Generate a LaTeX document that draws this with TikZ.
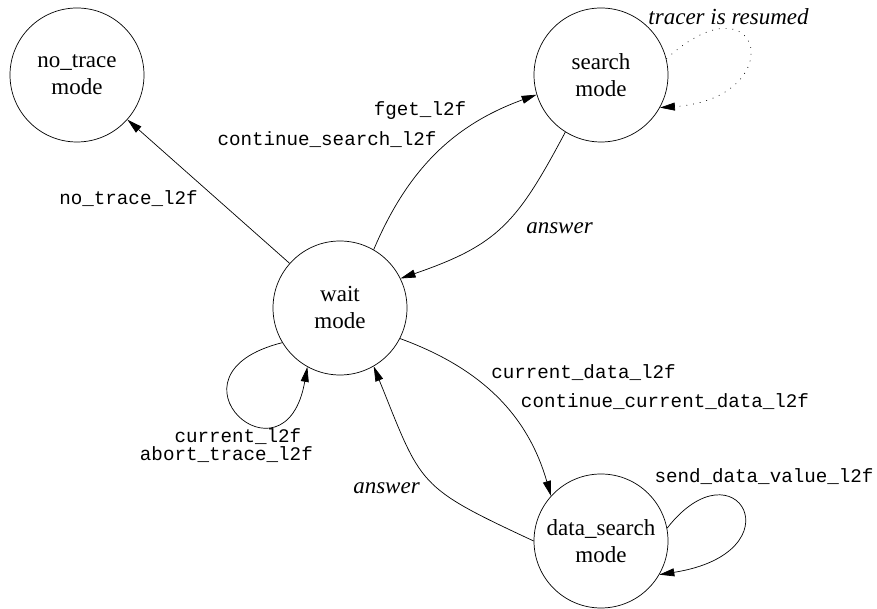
\documentclass[tikz,border=0pt]{standalone}
\usepackage{fontspec}
\setmainfont{Liberation Serif}
\setmonofont{Liberation Mono}
\usetikzlibrary{arrows.meta}

\begin{document}
\begin{tikzpicture}[
  x=1pt,y=1pt,
  state/.style={circle,draw,line width=0.7pt,minimum size=134pt,inner sep=0pt,align=center,
    font=\fontsize{23}{27}\selectfont},
  call/.style={font=\ttfamily\fontsize{19.2}{18}\selectfont},
  reply/.style={font=\itshape\fontsize{23}{27}\selectfont},
  trans/.style={line width=0.7pt,-{Triangle[length=15pt,width=8pt]}},
  resume/.style={trans,dash pattern=on 0.8pt off 6pt}
  ]
\useasboundingbox (0,0) rectangle (877,609);
\node[state] (notrace) at (77,534) {no\_trace\\mode};
\node[state] (search) at (601,534) {search\\mode};
\node[state] (wait) at (340,301) {wait\\mode};
\node[state] (dsearch) at (601,68) {data\_search\\mode};

\draw[trans] (wait) -- (notrace);
\draw[trans] (wait.60) to[out=67,in=200] (search.197);
\draw[trans] (search.238) to[out=242,in=19,looseness=1.2] (wait.26);
\draw[trans] (wait.333) to[out=340,in=106] (dsearch.138);
\draw[trans] (dsearch.180) to[out=155,in=292,looseness=1.4] (wait.300);
\draw[trans] (wait.211) .. controls +(194:132) and +(260:128) .. (wait.241);
\draw[resume] (search.14) .. controls +(42:130) and +(4:132) .. (search.331);
\draw[trans] (dsearch.11) .. controls +(52:112) and +(9:142) .. (dsearch.330);

\node[call] (lnotrace) at (128.5,410) {no\_trace\_l2f};
\node[call] (lfget) at (420,498) {fget\_l2f};
\node[call] (lcont) at (327,469) {continue\_search\_l2f};
\node[reply] (lans1) at (559.5,381) {answer};
\node[reply] (lresume) at (728.5,592) {tracer is resumed};
\node[call] (lcurdata) at (583.5,236) {current\_data\_l2f};
\node[call] (lcontcur) at (665,207) {continue\_current\_data\_l2f};
\node[call] (lsend) at (764,132) {send\_data\_value\_l2f};
\node[call,align=right,anchor=east,inner sep=0pt] (lcur) at (313,163.5)
  {current\_l2f\phantom{x}\\abort\_trace\_l2f};
\node[reply] (lans2) at (386.5,121) {answer};
\end{tikzpicture}
\end{document}
